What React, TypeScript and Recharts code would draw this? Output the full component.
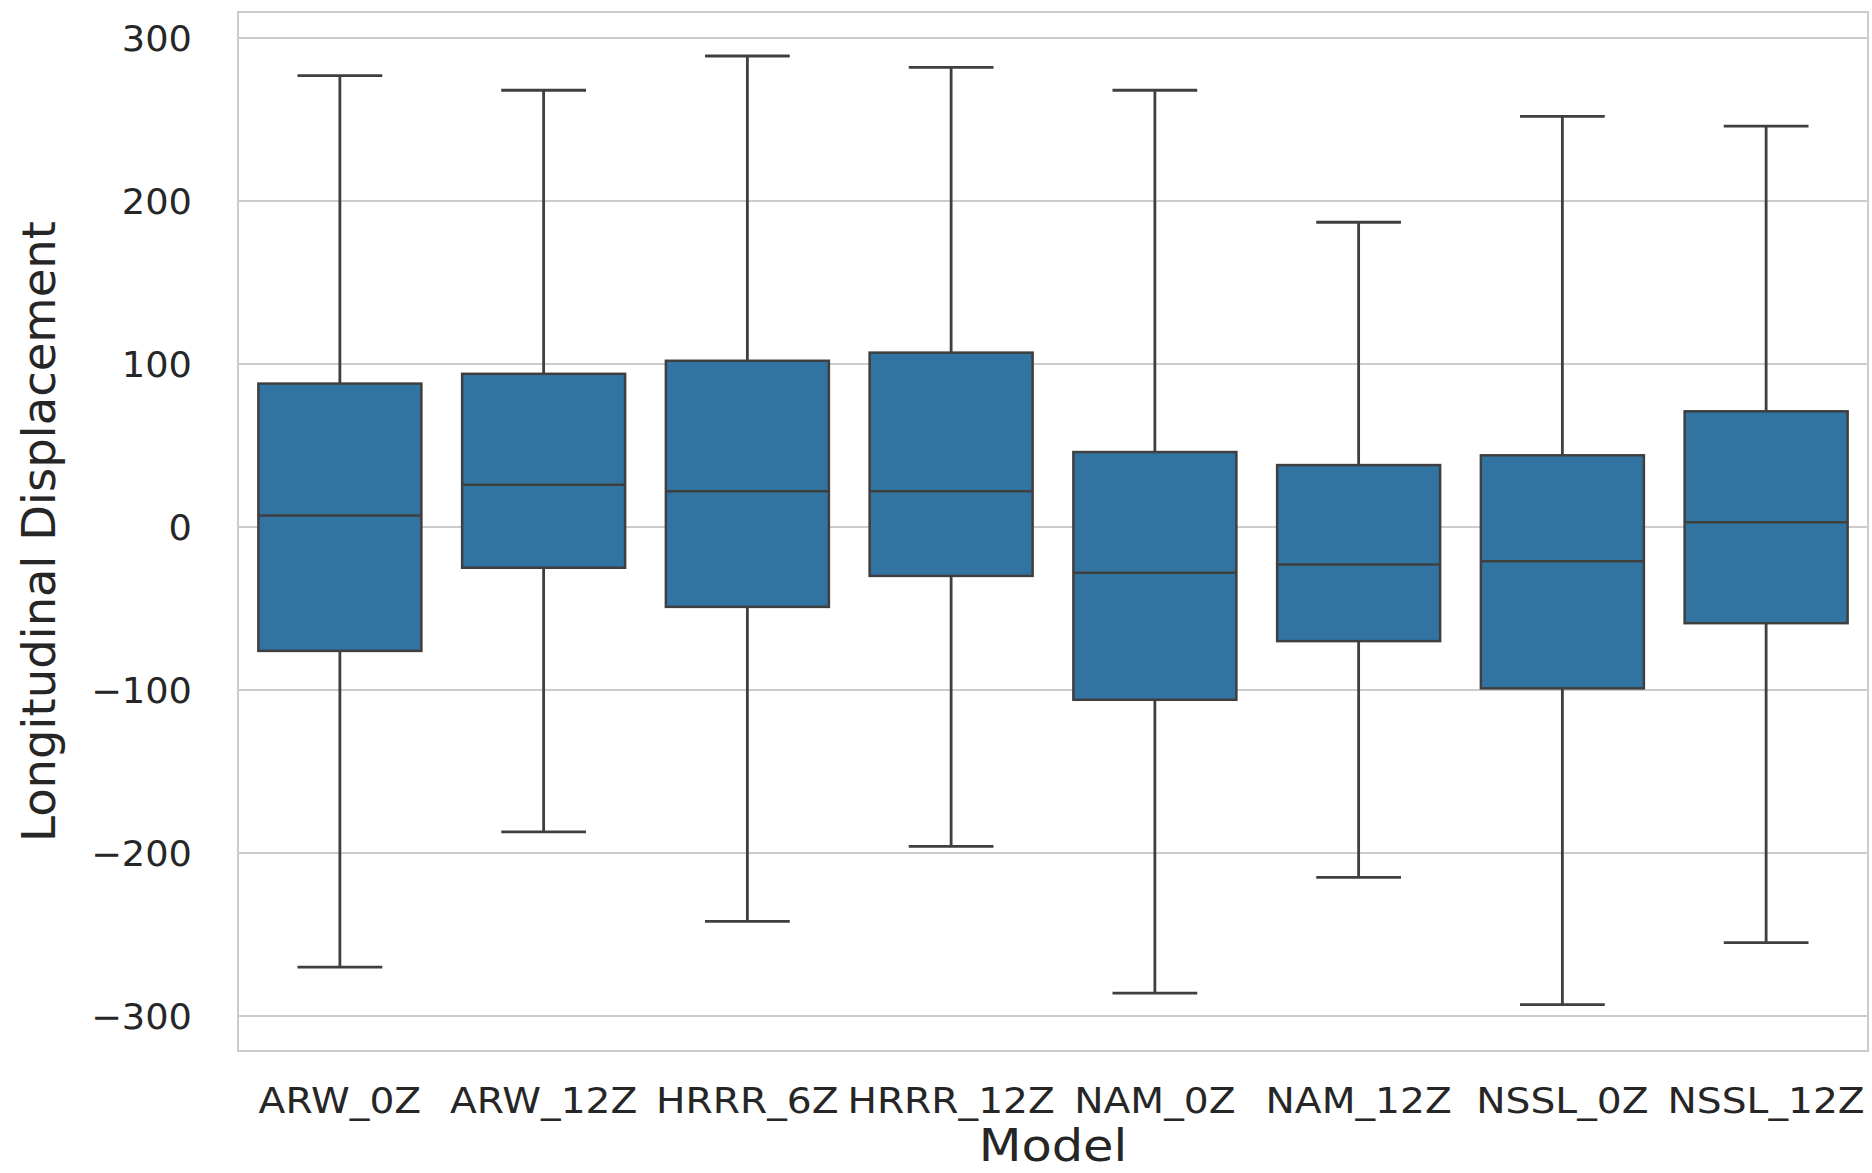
import React from 'react';
import { ComposedChart, Bar, XAxis, YAxis, CartesianGrid, ReferenceArea, Label } from 'recharts';

const models = ['ARW_0Z', 'ARW_12Z', 'HRRR_6Z', 'HRRR_12Z', 'NAM_0Z', 'NAM_12Z', 'NSSL_0Z', 'NSSL_12Z'];
const whiskerLow = [-270, -187, -242, -196, -286, -215, -293, -255];
const q1 = [-76, -25, -49, -30, -106, -70, -99, -59];
const medians = [7, 26, 22, 22, -28, -23, -21, 3];
const q3 = [88, 94, 102, 107, 46, 38, 44, 71];
const whiskerHigh = [277, 268, 289, 282, 268, 187, 252, 246];
const yTicks = [-300, -200, -100, 0, 100, 200, 300];

const data = models.map((model, i) => ({
  model,
  whisker: [whiskerLow[i], whiskerHigh[i]],
  box: [q1[i], q3[i]],
  median: medians[i],
}));

const BOX_FILL = '#3274a1';
const EDGE = '#3f3f3f';
const GRID = '#cccccc';
const TEXT = '#262626';
const FONT = 'DejaVu Sans';

const BoxShape = (props: any) => {
  const { x, y, width, height, payload } = props;
  const top = Math.min(y, y + height);
  const h = Math.abs(height);
  const [lo, hi] = payload.box;
  const my = top + ((hi - payload.median) / (hi - lo)) * h;
  return (
    <g>
      <rect x={x} y={top} width={width} height={h} fill={BOX_FILL} stroke={EDGE} strokeWidth={2.5} />
      <line x1={x} x2={x + width} y1={my} y2={my} stroke={EDGE} strokeWidth={2.5} />
    </g>
  );
};

const WhiskerShape = (props: any) => {
  const { x, y, width, height } = props;
  const top = Math.min(y, y + height);
  const bottom = top + Math.abs(height);
  const cx = x + width / 2;
  const cap = width * 0.26;
  return (
    <g stroke={EDGE} strokeWidth={2.8}>
      <line x1={cx} x2={cx} y1={top} y2={bottom} />
      <line x1={cx - cap} x2={cx + cap} y1={top} y2={top} />
      <line x1={cx - cap} x2={cx + cap} y1={bottom} y2={bottom} />
    </g>
  );
};

const XTick = (props: any) => {
  const { x, y, payload } = props;
  return (
    <g transform={`translate(${x},${y + 62}) scale(1.12,1)`}>
      <text textAnchor="middle" fill={TEXT} fontSize={35} fontFamily={FONT}>
        {payload.value}
      </text>
    </g>
  );
};

const YTick = (props: any) => {
  const { x, y, payload } = props;
  const v = payload.value;
  const label = v < 0 ? `\u2212${-v}` : `${v}`;
  return (
    <g transform={`translate(${x},${y + 13}) scale(1.05,1)`}>
      <text textAnchor="end" fill={TEXT} fontSize={35} fontFamily={FONT}>
        {label}
      </text>
    </g>
  );
};

export default function App() {
  return (
    <div style={{ position: 'absolute', left: 0, top: 0, width: 1872, height: 1173, background: '#fff' }}>
      <ComposedChart
        width={1872}
        height={1173}
        data={data}
        margin={{ top: 12, right: 4, bottom: 0, left: 0 }}
        barCategoryGap="10%"
      >
        <CartesianGrid xAxisId="box" vertical={false} stroke={GRID} strokeWidth={2} />
        <ReferenceArea xAxisId="box" y1={-321.5} y2={316} fill="none" stroke={GRID} strokeWidth={2} />
        <XAxis
          xAxisId="box"
          dataKey="model"
          height={122}
          axisLine={false}
          tickLine={false}
          tickSize={0}
          tickMargin={0}
          interval={0}
          tick={<XTick />}
        >
          <Label
            content={(p: any) => {
              const vb = p.viewBox;
              const cx = vb.x + vb.width / 2;
              return (
                <g transform={`translate(${cx},1161) scale(1.1,1)`}>
                  <text textAnchor="middle" fill={TEXT} fontSize={45} fontFamily={FONT}>
                    Model
                  </text>
                </g>
              );
            }}
          />
        </XAxis>
        <XAxis xAxisId="whisk" dataKey="model" hide />
        <YAxis
          domain={[-321.5, 316]}
          ticks={yTicks}
          width={238}
          axisLine={false}
          tickLine={false}
          tickSize={0}
          tickMargin={46}
          tick={<YTick />}
        >
          <Label
            content={(p: any) => {
              const vb = p.viewBox;
              const cy = vb.y + vb.height / 2;
              return (
                <text
                  transform={`translate(55,${cy}) rotate(-90)`}
                  textAnchor="middle"
                  fill={TEXT}
                  fontSize={46.5}
                  fontFamily={FONT}
                >
                  Longitudinal Displacement
                </text>
              );
            }}
          />
        </YAxis>
        <Bar xAxisId="whisk" dataKey="whisker" shape={<WhiskerShape />} isAnimationActive={false} />
        <Bar xAxisId="box" dataKey="box" shape={<BoxShape />} isAnimationActive={false} />
      </ComposedChart>
    </div>
  );
}
